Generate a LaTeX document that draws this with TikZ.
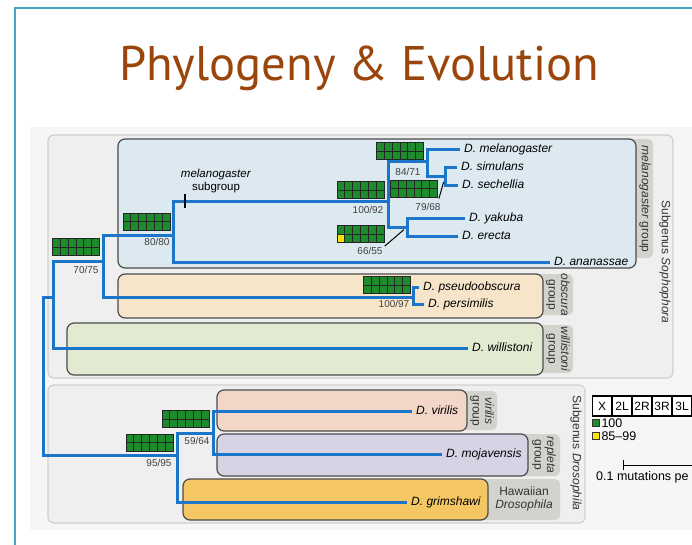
\documentclass[tikz,border=0pt]{standalone}
\usepackage{fontspec}
\setmainfont{Liberation Sans}
\newfontfamily\titlefont{PT Sans}
\usepackage{tikz}
\usetikzlibrary{calc}
\definecolor{framecol}{HTML}{4BA3C3}
\definecolor{titlecol}{HTML}{9A450C}
\definecolor{panelbg}{HTML}{F6F6F6}
\definecolor{subbg}{HTML}{EFEFEF}
\definecolor{subline}{HTML}{D0D0D0}
\definecolor{melbg}{HTML}{DCE9F1}
\definecolor{obsbg}{HTML}{F6E5C9}
\definecolor{wilbg}{HTML}{E3EAD2}
\definecolor{virbg}{HTML}{F2D6C7}
\definecolor{repbg}{HTML}{D7D2E4}
\definecolor{hawbg}{HTML}{F5C764}
\definecolor{tabbg}{HTML}{D3D3CD}
\definecolor{branchcol}{HTML}{1B75C8}
\definecolor{bsgreen}{HTML}{1D8A2B}
\definecolor{bsyellow}{HTML}{F7E400}
\newcommand{\bootcells}[1]{%
  \fill[#1] (path picture bounding box.south west) rectangle ++(7.83pt,8.5pt);
  \foreach \k in {1,...,5} \draw[bsgrid] ([xshift=\k*7.83pt]path picture bounding box.south west) -- ++(0pt,17pt);
  \draw[bsgrid] ([yshift=8.5pt]path picture bounding box.south west) -- ++(47pt,0pt);}
\tikzset{
  subgenus/.style={fill=subbg,draw=subline,line width=1.2pt,rounded corners=6pt},
  grp/.style={draw=black!70,line width=1.2pt,rounded corners=7pt},
  tab/.style={fill=tabbg,rounded corners=5pt},
  branch/.style={draw=branchcol,line width=3pt},
  sp/.style={font=\fontsize{12}{14}\selectfont\itshape,inner xsep=4pt,inner ysep=1pt,text height=8.5pt,text depth=2.5pt,anchor=west},
  bs/.style={font=\fontsize{10}{12}\selectfont,text=black!75,inner sep=1pt},
  grplab/.style={font=\fontsize{12}{12.5}\selectfont,text=black!80,align=center,rotate=-90,inner sep=0pt},
  bsgrid/.style={draw=black!85,line width=0.9pt},
  bootbox/.style={draw=black!85,line width=0.9pt,fill=bsgreen,minimum width=47pt,minimum height=17pt,inner sep=0pt,path picture={\bootcells{#1}}},
  bootbox/.default=bsgreen,
  pointer/.style={draw=black,line width=1pt},
  chrom/.style={draw,fill=white,line width=1.2pt,minimum width=18.6pt,minimum height=20pt,inner sep=0pt,font=\fontsize{12}{12}\selectfont},
  lsq/.style={draw=black!80,line width=0.6pt,minimum size=7pt,inner sep=0pt},
  lg/.style={font=\fontsize{12.5}{13}\selectfont,inner sep=2pt,anchor=west},
}
\begin{document}
\begin{tikzpicture}[x=1pt,y=-1pt]
\useasboundingbox (0,0) rectangle (692,545);
\clip (0,0) rectangle (692,545);
\fill[white] (0,0) rectangle (692,545);
\draw[framecol,line width=1.5pt] (15,545) -- (15,8) -- (700,8);
\node[font=\titlefont\fontsize{48.6}{54}\selectfont,text=titlecol,anchor=base] (title) at (359,81) {Phylogeny \& Evolution};
\fill[panelbg] (30,127) rectangle (700,530);
\draw[subgenus] (48,135) rectangle (673,378);
\draw[subgenus] (48,385) rectangle (585,523);
\foreach \a/\b/\c/\d in {620/139/653/258,530/274/573/315,530/325/573/373,450/391/497/430,510/434/560/476,470/479/560/520}
{\fill[tab] (\a,\b) rectangle (\c,\d);}
\foreach \a/\b/\c/\d/\col in {118/139/636/268/melbg,118/274/543/318/obsbg,67/323/543/375/wilbg,217/390/467/431/virbg,217/434/528/476/repbg,183/479/488/520/hawbg}
{\draw[grp,fill=\col] (\a,\b) rectangle (\c,\d);}
\node[grplab] (gmel) at (645,199) {\textit{melanogaster} group};
\node[grplab] (gobs) at (558,295) {\textit{obscura}\\group};
\node[grplab] (gwil) at (558,349) {\textit{willistoni}\\group};
\node[grplab] (gvir) at (482,411) {\textit{virilis}\\group};
\node[grplab] (grep) at (544,455) {\textit{repleta}\\group};
\node[grplab,rotate=90] (ghaw) at (524,499) {Hawaiian\\\textit{Drosophila}};
\node[grplab] (ssoph) at (665,262) {Subgenus \textit{Sophophora}};
\node[grplab] (sdros) at (576,453) {Subgenus \textit{Drosophila}};
\foreach \nm/\x/\y/\lab in {mel/460/150/melanogaster,sim/457/168/simulans,sec/458/186/sechellia,yak/465/218/yakuba,ere/458/236/erecta,ana/550/262/ananassae,pse/419/287/pseudoobscura,per/424/304/persimilis,wil/468/348/willistoni,vir/412/411/virilis,moj/442/454/mojavensis,gri/407/502/grimshawi}
{\node[sp] (\nm) at (\x,\y) {D. \lab};}
\coordinate (n7968) at (445,177);
\coordinate (n8471) at (427,162);
\coordinate (n6655) at (407,227);
\coordinate (n10092) at (388,202);
\coordinate (n8080) at (173,235);
\coordinate (n10097) at (413,297);
\coordinate (n7075) at (103,261);
\coordinate (nsoph) at (53,297);
\coordinate (n5964) at (213,433);
\coordinate (ndros) at (177,455);
\coordinate (nroot) at (43,360);
\draw[branch] (sim.west) -| (n7968) |- (sec.west);
\draw[branch] (mel.west) -| (n8471) |- (n7968);
\draw[branch] (yak.west) -| (n6655) |- (ere.west);
\draw[branch] (n8471) -| (n10092) |- (n6655);
\draw[branch] (n10092) -| (n8080) |- (ana.west);
\draw[branch] (pse.west) -| (n10097) |- (per.west);
\draw[branch] (n8080) -| (n7075) |- (n10097);
\draw[branch] (n7075) -| (nsoph) |- (wil.west);
\draw[branch] (vir.west) -| (n5964) |- (moj.west);
\draw[branch] (n5964) -| (ndros) |- (gri.west);
\draw[branch] (nsoph) -| (nroot) |- (ndros);
\node[font=\fontsize{11.5}{13}\selectfont,align=center,inner sep=0pt] (msub) at (216,181) {\textit{melanogaster}\\subgroup};
\coordinate (subtick) at (185,201);
\draw[line width=1.3pt] ([yshift=7pt]subtick) -- ([yshift=-7pt]subtick);
\foreach \nm/\x/\y/\v/\lx/\ly/\col in {7075/76/247/70\slash75/86/270/bsgreen,8080/146.5/221.5/80\slash80/157/242/bsgreen,10092/360.5/190/100\slash92/368/210/bsgreen,8471/400/151/84\slash71/408/172/bsgreen,7968/414/188.5/79\slash68/428/207/bsgreen,6655/360.5/234/66\slash55/370/251/bsyellow,10097/387/285/100\slash97/394/304/bsgreen,5964/185.5/419/59\slash64/197/441/bsgreen,9595/149.5/442.5/95\slash95/159/463/bsgreen}
{\node[bootbox=\col] (b\nm) at (\x,\y) {}; \node[bs] (l\nm) at (\lx,\ly) {\v};}
\draw[pointer,shorten >=5pt] ([xshift=1pt,yshift=-1pt]b7968.south east) -- (n7968);
\draw[pointer,shorten >=4pt] ([xshift=1pt]l6655.north east) -- (n6655);
\foreach \c [count=\i from 0] in {X,2L,2R,3R,3L}
{\node[chrom] (ch\i) at ({602+20*\i},406) {\c};}
\node[lsq,fill=bsgreen] (k100) at (595.5,423) {};
\node[lg] (t100) at (k100.east) {100};
\node[lsq,fill=bsyellow] (k8599) at (595.5,436) {};
\node[lg] (t8599) at (k8599.east) {85--99};
\coordinate (sb0) at (623,465);
\coordinate (sb1) at (720,465);
\draw[line width=1pt] (sb0) -- (sb1);
\draw[line width=1pt] ([yshift=5pt]sb0) -- ([yshift=-5pt]sb0);
\node[lg] (sbl) at (594,477) {0.1 mutations pe};
\end{tikzpicture}
\end{document}
